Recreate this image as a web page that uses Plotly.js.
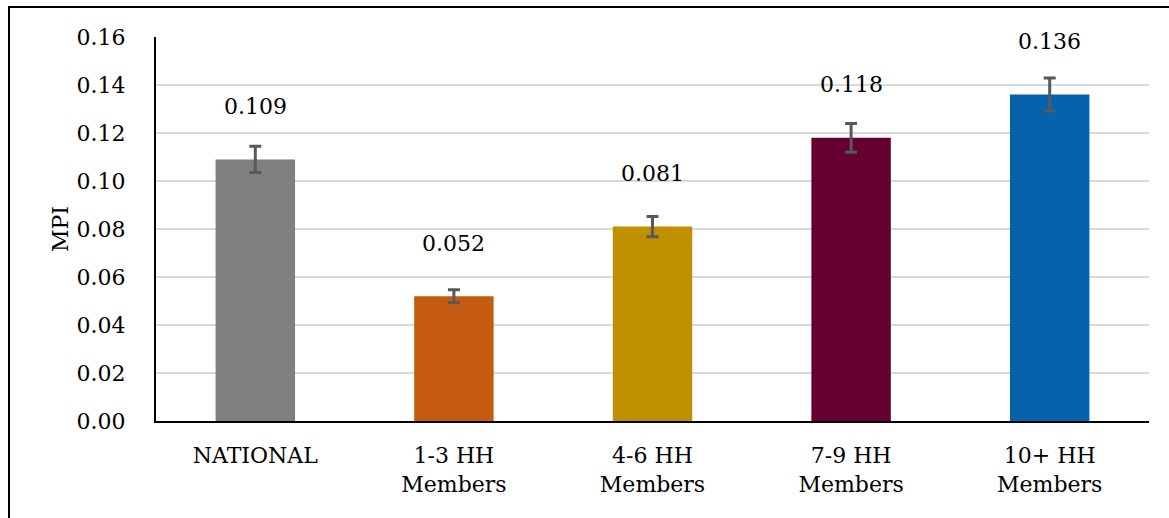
<!DOCTYPE html>
<html>
<head>
<meta charset="utf-8">
<script src="https://cdn.plot.ly/plotly-3.0.1.min.js"></script>
<style>
  html, body { margin: 0; padding: 0; background: #fff; }
  #wrap { position: relative; width: 1169px; height: 518px; overflow: hidden; }
  #chart { width: 1169px; height: 518px; }
  #frame { position: absolute; left: 8px; top: 6px; width: 1200px; height: 600px;
           border-left: 2px solid #000; border-top: 2px solid #000; pointer-events: none; }
</style>
</head>
<body>
<div id="wrap">
  <div id="chart"></div>
  <div id="frame"></div>
</div>
<script>
const categories = ["NATIONAL", "1-3 HH<br>Members", "4-6 HH<br>Members", "7-9 HH<br>Members", "10+ HH<br>Members"];
const mpiValues = [0.109, 0.052, 0.081, 0.118, 0.136];
const errorValues = [0.0055, 0.0027, 0.0042, 0.0060, 0.0069];
const valueLabels = ["0.109", "0.052", "0.081", "0.118", "0.136"];
const barColors = ["#7F7F7F", "#C55A11", "#BF9000", "#660033", "#0563AE"];
const yTicks = [0, 0.02, 0.04, 0.06, 0.08, 0.10, 0.12, 0.14, 0.16];
const yTickText = ["0.00", "0.02", "0.04", "0.06", "0.08", "0.10", "0.12", "0.14", "0.16"];

const FONT = "DejaVu Serif";
const FS = 22;

const trace = {
  type: "bar",
  x: categories,
  y: mpiValues,
  marker: { color: barColors },
  error_y: { type: "data", array: errorValues, visible: true, color: "#595959", thickness: 3, width: 6 },
  hoverinfo: "x+y"
};

const annotations = categories.map((c, i) => ({
  x: c, y: mpiValues[i], xref: "x", yref: "y",
  text: valueLabels[i], showarrow: false,
  yanchor: "middle", yshift: 53,
  font: { family: FONT, size: FS, color: "#000" }
}));

const layout = {
  width: 1169, height: 518,
  margin: { l: 156, r: 20, t: 37, b: 97 },
  paper_bgcolor: "#fff", plot_bgcolor: "#fff",
  showlegend: false,
  bargap: 0.6,
  font: { family: FONT, size: FS, color: "#000" },
  xaxis: {
    showline: true, linecolor: "#000", linewidth: 2,
    showgrid: false, ticks: "", ticklabelstandoff: 14,
    tickfont: { family: FONT, size: FS, color: "#000" }
  },
  yaxis: {
    range: [0, 0.16], tickvals: yTicks, ticktext: yTickText,
    showline: true, linecolor: "#000", linewidth: 2,
    showgrid: true, gridcolor: "#D9D9D9", gridwidth: 2,
    zeroline: false, ticks: "", ticklabelstandoff: 24,
    tickfont: { family: FONT, size: FS, color: "#000" },
    title: { text: "MPI", font: { family: FONT, size: FS, color: "#000" }, standoff: 2 }
  },
  annotations: annotations
};

Plotly.newPlot("chart", [trace], layout, { displayModeBar: false, staticPlot: true });
</script>
</body>
</html>
